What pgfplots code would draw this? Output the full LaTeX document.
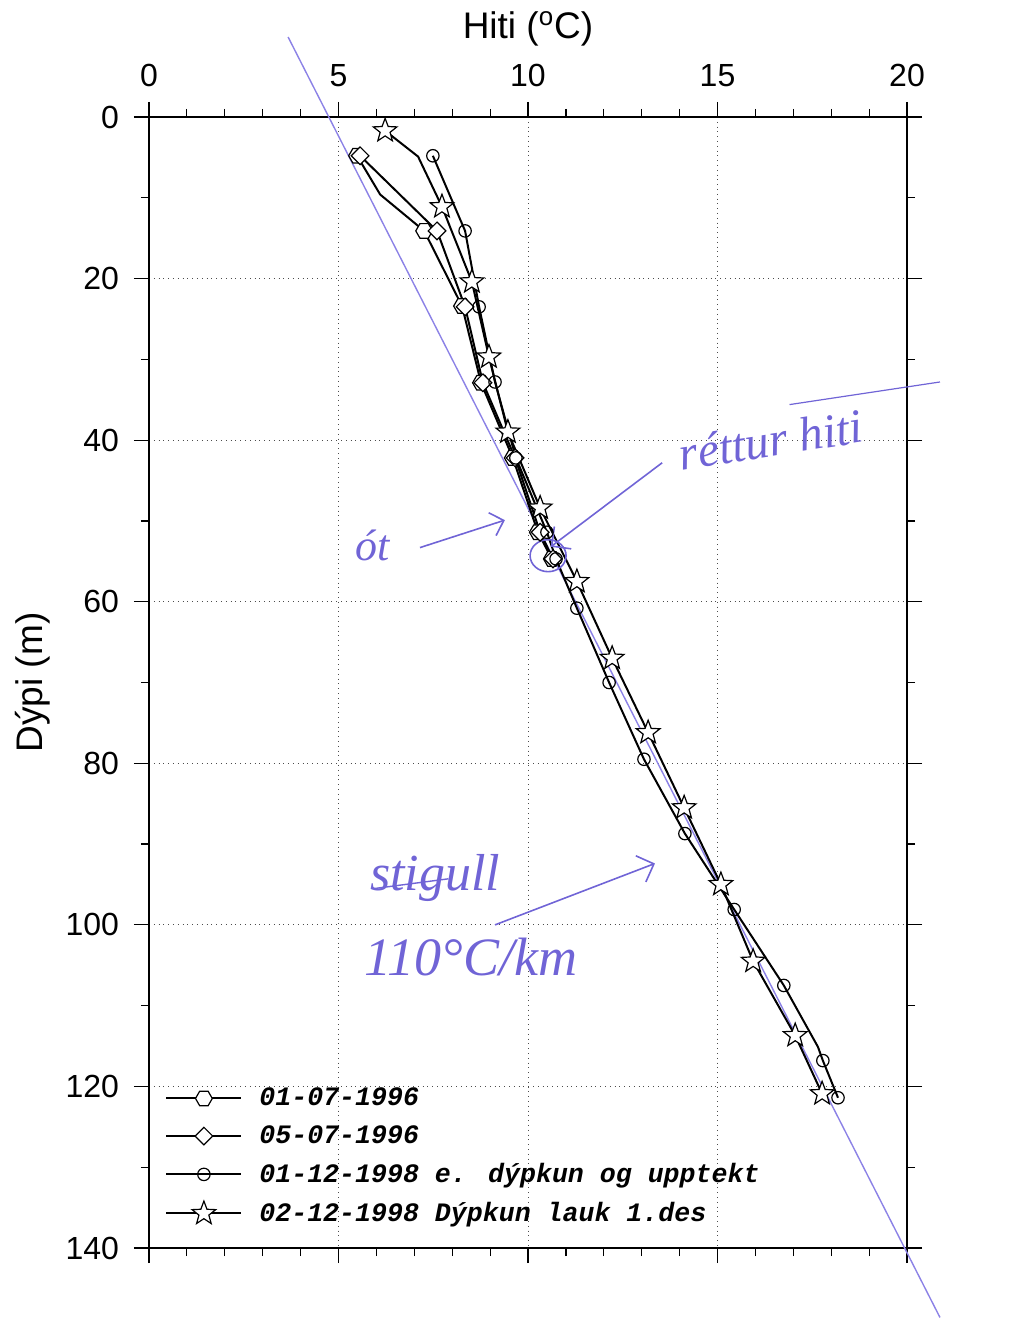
\documentclass[border=0pt]{standalone}
\usepackage{pgfplots}
\pgfplotsset{compat=1.18}
\usepackage{fontspec}
\setmainfont{Liberation Sans}
\newfontfamily\monof{Liberation Mono}
\newfontfamily\handf{Liberation Serif}
\usetikzlibrary{arrows.meta}
\definecolor{penblue}{RGB}{112,100,214}
\definecolor{lineblue}{RGB}{140,130,230}

\pgfdeclareplotmark{hexagon}{%
 \pgfpathmoveto{\pgfqpointpolar{0}{\pgfplotmarksize}}%
 \pgfpathlineto{\pgfqpointpolar{60}{\pgfplotmarksize}}%
 \pgfpathlineto{\pgfqpointpolar{120}{\pgfplotmarksize}}%
 \pgfpathlineto{\pgfqpointpolar{180}{\pgfplotmarksize}}%
 \pgfpathlineto{\pgfqpointpolar{240}{\pgfplotmarksize}}%
 \pgfpathlineto{\pgfqpointpolar{300}{\pgfplotmarksize}}%
 \pgfpathclose\pgfusepathqfillstroke}
\pgfdeclareplotmark{odiamond}{%
 \pgfpathmoveto{\pgfqpointpolar{0}{\pgfplotmarksize}}%
 \pgfpathlineto{\pgfqpointpolar{90}{\pgfplotmarksize}}%
 \pgfpathlineto{\pgfqpointpolar{180}{\pgfplotmarksize}}%
 \pgfpathlineto{\pgfqpointpolar{270}{\pgfplotmarksize}}%
 \pgfpathclose\pgfusepathqfillstroke}
\pgfdeclareplotmark{ostar}{%
 \pgfpathmoveto{\pgfqpointpolar{90}{\pgfplotmarksize}}%
 \pgfpathlineto{\pgfpointpolar{126}{0.42\pgfplotmarksize}}%
 \pgfpathlineto{\pgfqpointpolar{162}{\pgfplotmarksize}}%
 \pgfpathlineto{\pgfpointpolar{198}{0.42\pgfplotmarksize}}%
 \pgfpathlineto{\pgfqpointpolar{234}{\pgfplotmarksize}}%
 \pgfpathlineto{\pgfpointpolar{270}{0.42\pgfplotmarksize}}%
 \pgfpathlineto{\pgfqpointpolar{306}{\pgfplotmarksize}}%
 \pgfpathlineto{\pgfpointpolar{342}{0.42\pgfplotmarksize}}%
 \pgfpathlineto{\pgfqpointpolar{18}{\pgfplotmarksize}}%
 \pgfpathlineto{\pgfpointpolar{54}{0.42\pgfplotmarksize}}%
 \pgfpathclose\pgfusepathqfillstroke}

\begin{document}
\begin{tikzpicture}
\begin{axis}[
 scale only axis, width=379pt, height=565.5pt,
 xmin=0, xmax=20, ymin=0, ymax=140, y dir=reverse,
 xtick={0,5,...,20}, minor x tick num=4,
 ytick={0,20,...,140}, minor y tick num=1,
 xticklabel pos=upper,
 tick align=outside, major tick length=7.5pt, minor tick length=4pt,
 tick style={black, line width=0.6pt},
 axis line style={line width=0.7pt},
 grid=major, major grid style={dotted, black!70, line width=0.5pt},
 ticklabel style={font=\fontsize{16}{19}\selectfont},
 xticklabel style={yshift=4pt},
 yticklabel style={xshift=-4pt},
 /pgf/number format/assume math mode=true,
 xlabel={Hiti (\textsuperscript{o}C)}, ylabel={Dýpi (m)},
 label style={font=\fontsize{18.5}{22}\selectfont},
 xlabel style={at={(axis description cs:0.5,1.078)}, anchor=center},
 ylabel style={at={(axis description cs:-0.154,0.5)}, anchor=center},
 clip=false,
 legend cell align=left,
 legend style={draw=none, fill=none, at={(0,0)}, anchor=south west, xshift=5pt, yshift=7.5pt,
   font=\monof\bfseries\itshape\fontsize{13.3}{16}\selectfont, row sep=4.4pt,
   /tikz/every odd column/.append style={column sep=6.5pt}},
 legend image code/.code={\draw[#1, mark indices={2}] plot coordinates {(0pt,0pt) (18.75pt,0pt) (37.5pt,0pt)};},
 every axis plot/.append style={black, line width=1pt, mark options={fill=white, line width=0.6pt, solid}},
]
% gradient line (drawn first)
\addplot[lineblue, line width=0.7pt, forget plot] coordinates {(3.67,-9.9) (20.87,148.6)};

\addplot[mark=hexagon, mark size=4.2pt, mark indices={1,3,4,5,6,7,8}] coordinates {
(5.49,4.8) (6.10,9.6) (7.26,14.1) (8.26,23.4) (8.76,32.9) (9.60,42.2) (10.26,51.4) (10.63,54.7)};
\addlegendentry{01-07-1996}
\addplot[mark=odiamond, mark size=4.4pt] coordinates {
(5.57,4.8) (7.60,14.1) (8.34,23.5) (8.81,32.9) (9.66,42.2) (10.32,51.4) (10.66,54.7)};
\addlegendentry{05-07-1996}
\addplot[mark=o, mark size=3.1pt, mark indices={1,2,3,4,5,6,7,8,9,10,11,12,13,15,16}] coordinates {
(7.49,4.8) (8.34,14.1) (8.71,23.5) (9.13,32.8) (9.68,42.2) (10.50,51.4) (10.74,54.7)
(11.29,60.8) (12.14,70.0) (13.06,79.5) (14.14,88.7) (15.44,98.1) (16.75,107.5)
(17.65,115.1) (17.78,116.8) (18.18,121.4)};
\addlegendentry{01-12-1998 e. dýpkun og upptekt}
\addplot[mark=ostar, mark size=6.2pt, mark indices={1,3,4,5,6,7,8,9,10,11,12,13,14,15}] coordinates {
(6.23,1.7) (7.10,4.9) (7.73,11.1) (8.52,20.4) (8.97,29.7) (9.47,39.0) (10.32,48.4)
(11.29,57.5) (12.22,67.0) (13.17,76.2) (14.12,85.5) (15.09,95.0) (15.94,104.5)
(17.05,113.7) (17.76,120.9)};
\addlegendentry{02-12-1998 Dýpkun lauk 1.des}

% handwritten annotations
\node[penblue, font=\handf\itshape\fontsize{22}{24}\selectfont] at (axis cs:5.9,53.0) {ót};
\draw[penblue, line width=0.8pt, -{Straight Barb[length=6pt]}] (axis cs:7.15,53.3) -- (axis cs:9.39,49.9);
\node[penblue, rotate=9, font=\handf\itshape\fontsize{24}{26}\selectfont] at (axis cs:16.4,40.0) {réttur hiti};
\draw[penblue, line width=0.6pt] (axis cs:16.9,35.6) -- (axis cs:20.87,32.8);
\draw[penblue, line width=0.8pt, -{Straight Barb[length=7pt]}] (axis cs:13.54,42.8) -- (axis cs:10.6,53.2);
\draw[penblue, line width=0.8pt] (axis cs:10.53,54.3) ellipse [x radius=9pt, y radius=8pt];
\node[penblue, font=\handf\itshape\fontsize{26}{28}\selectfont] at (axis cs:7.55,94.2) {stigull};
\draw[penblue, line width=0.7pt] (axis cs:5.95,95.5) -- (axis cs:7.9,94.3);
\node[penblue, font=\handf\itshape\fontsize{27}{29}\selectfont] at (axis cs:8.5,104.0) {110°C/km};
\draw[penblue, line width=0.8pt, -{Straight Barb[length=7pt]}] (axis cs:9.13,100.0) -- (axis cs:13.35,92.4);
\end{axis}
\pgfresetboundingbox
\path[use as bounding box] ([xshift=-74.5pt,yshift=-36pt]current axis.south west) rectangle ([xshift=53pt,yshift=58.5pt]current axis.north east);
\end{tikzpicture}
\end{document}
